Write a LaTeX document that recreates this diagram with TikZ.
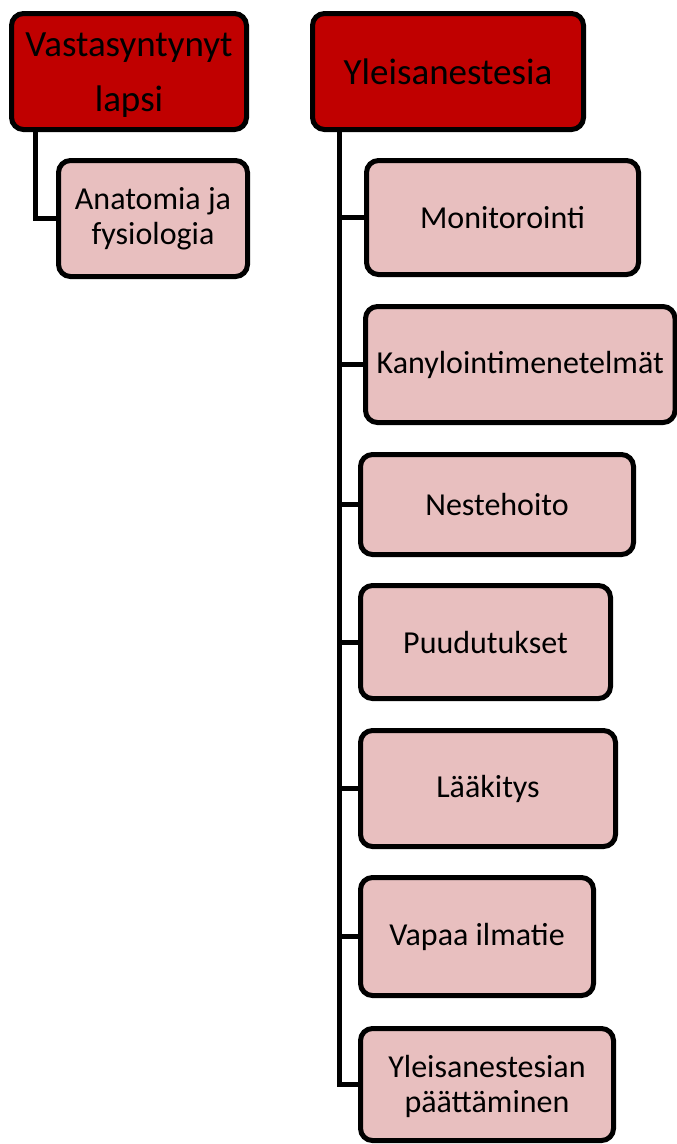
\documentclass[tikz,border=0pt]{standalone}
\usepackage{fontspec}
\setmainfont{Carlito}
\definecolor{boxred}{HTML}{C00000}
\definecolor{boxpink}{HTML}{E8BFBF}
\begin{document}
\begin{tikzpicture}[x=1pt,y=-1pt,
  topbox/.style={draw=black, line width=5pt, rounded corners=12pt, fill=boxred,
    inner sep=0pt, align=center, font=\fontsize{37}{55}\selectfont},
  subbox/.style={draw=black, line width=5pt, rounded corners=12pt, fill=boxpink,
    inner sep=0pt, align=center, font=\fontsize{32}{35}\selectfont},
  conn/.style={draw=black, line width=5pt}]
\useasboundingbox (0,0) rectangle (677,1144);
% top boxes
\node[topbox, minimum width=235pt, minimum height=116pt] (V) at (129,71.5) {\rule{0pt}{30pt}Vastasyntynyt\\lapsi};
\node[topbox, minimum width=271pt, minimum height=116pt] (Y) at (448,71.5) {Yleisanestesia};
% sub boxes
\node[subbox, minimum width=189pt, minimum height=116pt] (A) at (153,218.5) {Anatomia ja\\fysiologia};
\node[subbox, minimum width=272pt, minimum height=114pt] (m1) at (502.5,217.5) {Monitorointi};
\node[subbox, minimum width=309.5pt, minimum height=116pt] (m2) at (520.25,364.5) {Kanylointimenetelmät};
\node[subbox, minimum width=273pt, minimum height=100pt] (m3) at (497,504.5) {Nestehoito};
\node[subbox, minimum width=250pt, minimum height=113pt] (m4) at (485.5,642) {Puudutukset};
\node[subbox, minimum width=255pt, minimum height=116pt] (m5) at (488,788.5) {Lääkitys};
\node[subbox, minimum width=233pt, minimum height=118pt] (m6) at (477,936.5) {Vapaa ilmatie};
\node[subbox, minimum width=253pt, minimum height=112pt] (m7) at (487,1084.5) {\rule{0pt}{26pt}Yleisanestesian\\päättäminen};
% connector guides
\coordinate (lx) at (35,0);
\coordinate (rx) at (339.5,0);
\draw[conn] (V.south -| lx) |- (A.west);
\foreach \m in {m1,m2,m3,m4,m5,m6,m7}{
  \draw[conn] (Y.south -| rx) |- (\m.west);
}
\end{tikzpicture}
\end{document}
